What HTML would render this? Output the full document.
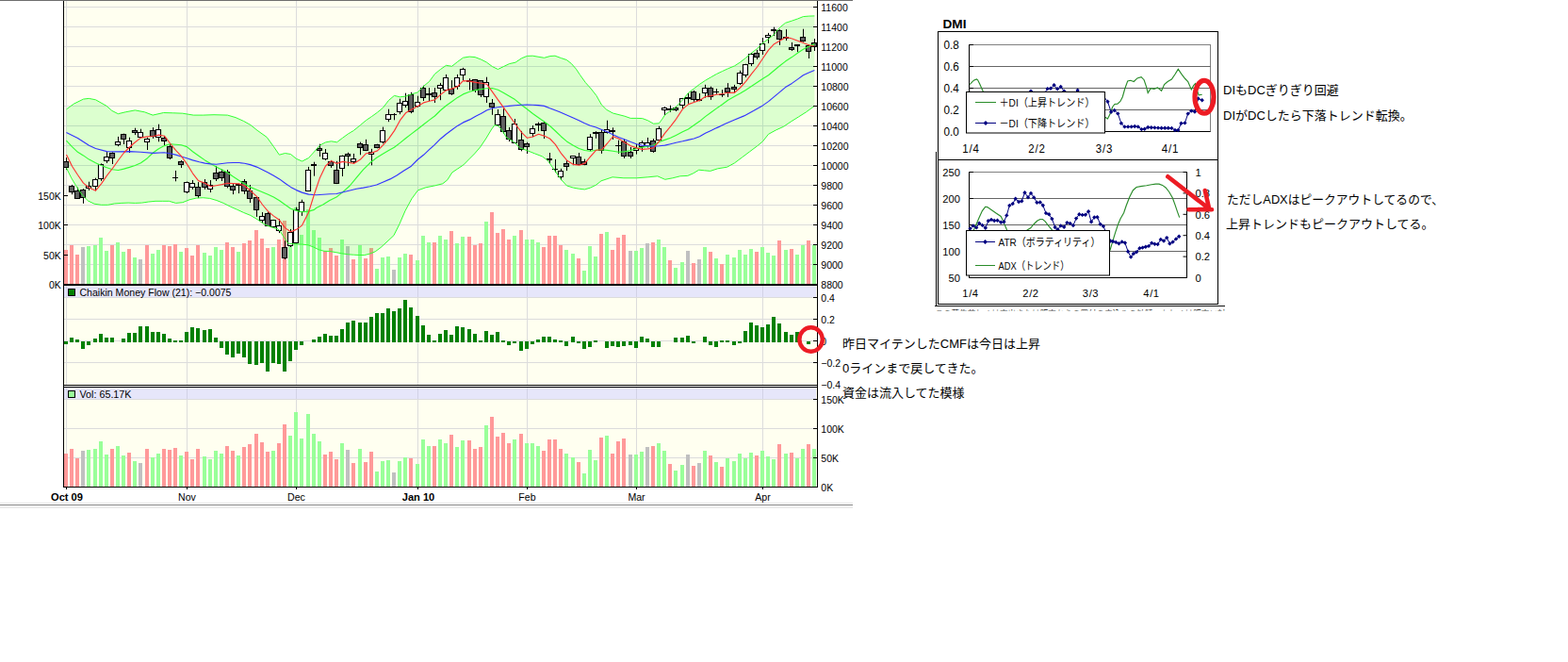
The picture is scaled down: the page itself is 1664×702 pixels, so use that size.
<!DOCTYPE html>
<html><head><meta charset="utf-8"><title>chart</title>
<style>html,body{margin:0;padding:0;background:#fff;}svg{display:block;}text{font-family:"Liberation Sans","Noto Sans CJK JP",sans-serif;}</style>
</head><body>
<svg width="1664" height="702" viewBox="0 0 1664 702">
<rect x="0" y="0" width="1664" height="702" fill="#fff"/>
<rect x="0" y="0" width="905" height="1" fill="#6e6e6e"/>
<rect x="0" y="533" width="905" height="1" fill="#e4e4e4"/>
<rect x="0" y="535" width="905" height="1" fill="#848484"/>
<rect x="0" y="537" width="905" height="2" fill="#ececec"/>
<rect x="68" y="1" width="799" height="300" fill="#fffff0"/>
<rect x="68" y="303" width="799" height="105" fill="#fffff0"/>
<rect x="68" y="411" width="799" height="105" fill="#fffff0"/>
<rect x="68" y="303" width="798" height="12" fill="#e6e6fa"/>
<rect x="68" y="411" width="798" height="12" fill="#e6e6fa"/>
<path d="M68 7.5H867M68 28.5H867M68 49.5H867M68 70.5H867M68 91.5H867M68 112.5H867M68 133.5H867M68 154.5H867M68 175.5H867M68 196.5H867M68 217.5H867M68 238.5H867M68 259.5H867M68 280.5H867M68 315.5H867M68 338.5H867M68 361.5H867M68 384.5H867M68 423.5H867M68 454.5H867M68 485.5H867M70.5 1V301M70.5 303V408M70.5 411V516M198.5 1V301M198.5 303V408M198.5 411V516M314.5 1V301M314.5 303V408M314.5 411V516M443.5 1V301M443.5 303V408M443.5 411V516M559.5 1V301M559.5 303V408M559.5 411V516M675.5 1V301M675.5 303V408M675.5 411V516M809.5 1V301M809.5 303V408M809.5 411V516" stroke="#dcdcdc" stroke-width="1" fill="none"/>
<path d="M70.5 303V315M70.5 411V423M198.5 303V315M198.5 411V423M314.5 303V315M314.5 411V423M443.5 303V315M443.5 411V423M559.5 303V315M559.5 411V423M675.5 303V315M675.5 411V423M809.5 303V315M809.5 411V423" stroke="#d2d2e6" stroke-width="1" fill="none"/>
<path d="M68 481h4v35h-4zM68 265h4v36h-4zM74 476h4v40h-4zM74 260h4v41h-4zM80 486h4v30h-4zM80 270h4v31h-4zM117 476h4v40h-4zM117 260h4v41h-4zM135 480h4v36h-4zM135 264h4v37h-4zM154 476h4v40h-4zM154 260h4v41h-4zM172 476h4v40h-4zM172 260h4v41h-4zM178 477h4v39h-4zM178 261h4v40h-4zM184 475h4v41h-4zM184 259h4v42h-4zM196 479h4v37h-4zM196 263h4v38h-4zM202 487h4v29h-4zM202 271h4v30h-4zM208 476h4v40h-4zM208 260h4v41h-4zM239 473h4v43h-4zM239 257h4v44h-4zM245 478h4v38h-4zM245 262h4v39h-4zM257 474h4v42h-4zM257 258h4v43h-4zM263 471h4v45h-4zM263 255h4v46h-4zM270 460h4v56h-4zM270 244h4v57h-4zM276 469h4v47h-4zM276 253h4v48h-4zM282 479h4v37h-4zM282 263h4v38h-4zM294 470h4v46h-4zM294 254h4v47h-4zM300 450h4v66h-4zM300 234h4v67h-4zM343 482h4v34h-4zM343 266h4v35h-4zM349 479h4v37h-4zM349 263h4v38h-4zM355 487h4v29h-4zM355 271h4v30h-4zM373 491h4v25h-4zM373 275h4v26h-4zM386 490h4v26h-4zM386 274h4v27h-4zM392 479h4v37h-4zM392 263h4v38h-4zM434 486h4v30h-4zM434 270h4v31h-4zM459 473h4v43h-4zM459 257h4v44h-4zM477 461h4v55h-4zM477 245h4v56h-4zM496 467h4v49h-4zM496 251h4v50h-4zM502 476h4v40h-4zM502 260h4v41h-4zM508 474h4v42h-4zM508 258h4v43h-4zM520 442h4v74h-4zM520 225h4v76h-4zM526 463h4v53h-4zM526 247h4v54h-4zM532 459h4v57h-4zM532 243h4v58h-4zM538 470h4v46h-4zM538 254h4v47h-4zM551 460h4v56h-4zM551 244h4v57h-4zM575 478h4v38h-4zM575 262h4v39h-4zM581 466h4v50h-4zM581 250h4v51h-4zM587 466h4v50h-4zM587 250h4v51h-4zM593 476h4v40h-4zM593 260h4v41h-4zM612 490h4v26h-4zM612 274h4v27h-4zM636 464h4v52h-4zM636 248h4v53h-4zM648 481h4v35h-4zM648 265h4v36h-4zM654 468h4v48h-4zM654 252h4v49h-4zM660 465h4v51h-4zM660 249h4v52h-4zM691 473h4v43h-4zM691 257h4v44h-4zM709 492h4v24h-4zM709 276h4v25h-4zM734 494h4v22h-4zM734 279h4v22h-4zM752 483h4v33h-4zM752 267h4v34h-4zM764 495h4v21h-4zM764 280h4v21h-4zM801 483h4v33h-4zM801 267h4v34h-4zM825 471h4v45h-4zM825 255h4v46h-4zM838 480h4v36h-4zM838 264h4v37h-4zM856 471h4v45h-4zM856 255h4v46h-4z" fill="#ff9999"/>
<path d="M92 477h4v39h-4zM92 261h4v40h-4zM99 476h4v40h-4zM99 260h4v41h-4zM105 468h4v48h-4zM105 252h4v49h-4zM111 482h4v34h-4zM111 266h4v35h-4zM123 473h4v43h-4zM123 257h4v44h-4zM129 483h4v33h-4zM129 267h4v34h-4zM141 489h4v27h-4zM141 273h4v28h-4zM160 485h4v31h-4zM160 269h4v32h-4zM166 481h4v35h-4zM166 265h4v36h-4zM190 483h4v33h-4zM190 267h4v34h-4zM215 484h4v32h-4zM215 268h4v33h-4zM221 487h4v29h-4zM221 271h4v30h-4zM227 478h4v38h-4zM227 262h4v39h-4zM233 481h4v35h-4zM233 265h4v36h-4zM251 483h4v33h-4zM251 267h4v34h-4zM288 478h4v38h-4zM288 262h4v39h-4zM306 462h4v54h-4zM306 246h4v55h-4zM312 437h4v79h-4zM312 220h4v81h-4zM318 465h4v51h-4zM318 249h4v52h-4zM325 439h4v77h-4zM325 222h4v79h-4zM331 460h4v56h-4zM331 244h4v57h-4zM337 468h4v48h-4zM337 252h4v49h-4zM361 470h4v46h-4zM361 254h4v47h-4zM380 476h4v40h-4zM380 260h4v41h-4zM398 500h4v16h-4zM398 285h4v16h-4zM404 489h4v27h-4zM404 273h4v28h-4zM410 488h4v28h-4zM410 272h4v29h-4zM422 489h4v27h-4zM422 273h4v28h-4zM428 485h4v31h-4zM428 269h4v32h-4zM441 492h4v24h-4zM441 276h4v25h-4zM447 466h4v50h-4zM447 250h4v51h-4zM453 473h4v43h-4zM453 257h4v44h-4zM465 466h4v50h-4zM465 250h4v51h-4zM471 470h4v46h-4zM471 254h4v47h-4zM483 474h4v42h-4zM483 258h4v43h-4zM489 467h4v49h-4zM489 251h4v50h-4zM514 451h4v65h-4zM514 235h4v66h-4zM544 466h4v50h-4zM544 250h4v51h-4zM557 470h4v46h-4zM557 254h4v47h-4zM563 470h4v46h-4zM563 254h4v47h-4zM569 473h4v43h-4zM569 257h4v44h-4zM599 481h4v35h-4zM599 265h4v36h-4zM606 485h4v31h-4zM606 269h4v32h-4zM618 502h4v14h-4zM618 287h4v14h-4zM624 477h4v39h-4zM624 261h4v40h-4zM630 488h4v28h-4zM630 272h4v29h-4zM642 462h4v54h-4zM642 246h4v55h-4zM673 482h4v34h-4zM673 266h4v35h-4zM679 479h4v37h-4zM679 263h4v38h-4zM697 470h4v46h-4zM697 254h4v47h-4zM703 478h4v38h-4zM703 262h4v39h-4zM715 499h4v17h-4zM715 284h4v17h-4zM722 493h4v23h-4zM722 278h4v23h-4zM746 478h4v38h-4zM746 262h4v39h-4zM758 490h4v26h-4zM758 274h4v27h-4zM770 486h4v30h-4zM770 270h4v31h-4zM777 489h4v27h-4zM777 273h4v28h-4zM783 481h4v35h-4zM783 265h4v36h-4zM789 486h4v30h-4zM789 270h4v31h-4zM795 480h4v36h-4zM795 264h4v37h-4zM807 478h4v38h-4zM807 262h4v39h-4zM813 484h4v32h-4zM813 268h4v33h-4zM819 487h4v29h-4zM819 271h4v30h-4zM832 481h4v35h-4zM832 265h4v36h-4zM844 486h4v30h-4zM844 270h4v31h-4zM850 476h4v40h-4zM850 260h4v41h-4zM862 476h4v40h-4zM862 260h4v41h-4z" fill="#99ff99"/>
<path d="M86 478h4v38h-4zM86 262h4v39h-4zM147 491h4v25h-4zM147 275h4v26h-4zM367 477h4v39h-4zM367 261h4v40h-4zM416 501h4v15h-4zM416 286h4v15h-4zM667 482h4v34h-4zM667 266h4v35h-4zM685 474h4v42h-4zM685 258h4v43h-4zM728 482h4v34h-4zM728 266h4v35h-4zM740 491h4v25h-4zM740 275h4v26h-4z" fill="#c0c0c0"/>
<path d="M68 362h4v3h-4zM74 358h4v5h-4zM80 360h4v3h-4zM86 362h4v8h-4zM92 362h4v4h-4zM99 359h4v4h-4zM105 354h4v9h-4zM111 358h4v5h-4zM117 358h4v5h-4zM129 359h4v4h-4zM135 353h4v10h-4zM141 353h4v10h-4zM147 346h4v17h-4zM154 346h4v17h-4zM160 352h4v11h-4zM166 352h4v11h-4zM172 354h4v9h-4zM178 359h4v4h-4zM184 361h4v2h-4zM190 361h4v2h-4zM196 352h4v11h-4zM202 347h4v16h-4zM208 348h4v15h-4zM215 350h4v13h-4zM221 349h4v14h-4zM227 358h4v5h-4zM233 362h4v7h-4zM239 362h4v14h-4zM245 362h4v17h-4zM251 362h4v13h-4zM257 362h4v17h-4zM263 362h4v24h-4zM270 362h4v25h-4zM276 362h4v23h-4zM282 362h4v32h-4zM288 362h4v23h-4zM294 362h4v24h-4zM300 362h4v32h-4zM306 362h4v21h-4zM312 362h4v9h-4zM318 362h4v4h-4zM331 360h4v3h-4zM337 357h4v6h-4zM343 354h4v9h-4zM349 356h4v7h-4zM355 356h4v7h-4zM361 349h4v14h-4zM367 342h4v21h-4zM373 340h4v23h-4zM380 342h4v21h-4zM386 342h4v21h-4zM392 336h4v27h-4zM398 332h4v31h-4zM404 332h4v31h-4zM410 327h4v36h-4zM416 330h4v33h-4zM422 327h4v36h-4zM428 318h4v45h-4zM434 326h4v37h-4zM441 335h4v28h-4zM447 345h4v18h-4zM453 355h4v8h-4zM459 361h4v2h-4zM465 354h4v9h-4zM471 350h4v13h-4zM477 355h4v8h-4zM483 346h4v17h-4zM489 347h4v16h-4zM496 349h4v14h-4zM502 354h4v9h-4zM508 361h4v2h-4zM514 351h4v12h-4zM520 355h4v8h-4zM526 352h4v11h-4zM532 361h4v2h-4zM538 362h4v4h-4zM544 362h4v2h-4zM551 362h4v10h-4zM557 362h4v8h-4zM563 362h4v3h-4zM569 360h4v3h-4zM575 357h4v6h-4zM581 357h4v6h-4zM587 360h4v3h-4zM593 361h4v2h-4zM599 362h4v5h-4zM606 357h4v6h-4zM612 362h4v2h-4zM618 362h4v8h-4zM624 362h4v6h-4zM630 361h4v2h-4zM642 362h4v7h-4zM648 362h4v5h-4zM654 362h4v6h-4zM660 362h4v5h-4zM667 362h4v4h-4zM673 362h4v7h-4zM679 357h4v6h-4zM685 359h4v4h-4zM691 362h4v6h-4zM697 362h4v6h-4zM715 358h4v5h-4zM722 358h4v5h-4zM728 356h4v7h-4zM734 362h4v2h-4zM746 357h4v6h-4zM752 362h4v4h-4zM758 362h4v6h-4zM764 361h4v2h-4zM770 361h4v2h-4zM777 362h4v4h-4zM783 362h4v2h-4zM789 351h4v12h-4zM795 342h4v21h-4zM801 345h4v18h-4zM807 347h4v16h-4zM813 344h4v19h-4zM819 336h4v27h-4zM825 343h4v20h-4zM832 352h4v11h-4zM838 355h4v8h-4zM844 352h4v11h-4zM856 362h4v3h-4z" fill="#008000"/>
<polygon points="70.5,115.9 78.4,110.1 88.5,105.1 94.3,104.4 101.5,105.8 113,112.3 118.8,117.4 125.3,120.7 133.2,118.8 143.3,116.9 153.4,118.8 162.1,122.1 173.6,119.5 183.7,119.8 193.8,120.2 205.3,122.1 215.4,122.1 227,121.7 241.4,122.1 250,124.6 258.7,128.5 265.9,132.5 273.1,138.3 283.2,145.5 290.5,155.6 296.4,164.2 302.5,162.5 308.5,163.5 314.4,168.3 320.6,171 327.5,167.5 333.4,161 339.5,154 345.5,150.9 351.5,149.8 357.5,150.8 363.5,146.3 369.4,142 375.4,138.4 382.4,132.7 388.4,127.7 394.5,123.5 400.5,119.2 406.5,114.2 412.5,106.4 418.4,101.4 424.4,102.8 430.4,102.1 436.4,100 443.5,97.8 449.5,91.4 455.5,86.5 461.4,78.5 467.5,73.5 473.5,69.3 479.5,70.3 485.7,65.4 491.5,61.2 498.2,60.1 504.1,60.6 510.4,63 516.3,66 522.5,70.6 528.4,73.5 534.3,70.6 540.6,67.6 547,66.2 553.5,61.8 559.4,59.4 565.2,59.2 571,60.2 577.5,61.3 583.9,59.5 589,59.2 595.5,61.6 601.3,63.5 606.3,67.4 611.4,73.2 615.7,79.7 621.4,87.6 627.2,94.1 633,101.5 638.3,111 643.8,116.4 650.4,120 657,121.7 662.9,123.2 669.2,125.4 675.5,125.4 681.7,125.6 687.6,127.8 693.5,131.2 699.4,130.8 702.8,126.2 705.5,122 711.5,117.4 717.4,113.4 724.4,106 730.4,98.6 736.4,94 742.5,89.3 748.5,85.3 754.4,81.9 760.4,78.5 766.5,75.6 772.5,72.8 779.5,69.9 785.5,66 791.4,61.4 797.4,56.3 803.4,51.7 809.4,45.6 815.5,41.4 821.5,36.4 827.5,29.2 833.5,24.3 840.4,22.1 846.4,20 852.4,17.6 858.4,17.1 864.4,16.9 864.4,112.3 855.4,118.9 847.5,123.9 839.5,128.9 831.5,134.3 823.5,137.9 815.5,142.3 809.5,149.9 803.6,154.8 795.6,160.8 787.6,166.8 779.6,172.8 771.6,177.2 761.7,178.8 753.7,181.4 747.7,180.8 741.7,180.2 735.7,183.8 729.8,186.4 721.8,186.8 713.8,188.8 705.8,190.3 697.8,186.8 687.9,187.8 675.5,188.8 661.9,188.8 650,187.8 638,191.8 632.5,196.2 626.5,199.1 620.5,200.9 614.4,200.2 608.4,199.1 601.4,196.9 595.4,190.3 589.5,182 581.5,170.5 575.5,165.9 567.6,162.9 559.6,159.7 551.6,156.9 545.6,150.5 537.6,146 531.7,136.5 528.5,133.5 524.9,132.6 521.7,137 515.7,147 509.7,155.9 503.7,162.9 497.7,168.9 491.8,174.9 485.8,178.9 479.8,182.9 474.8,190.8 469.8,194.8 461.8,196.8 451.9,198.8 443.5,201.8 436.9,210.8 429.9,223.8 423.9,237.7 417.9,249.7 410,257 404,262.5 398.2,266.8 392.5,269.1 386.8,270.5 381.1,270.5 375.4,270.2 369.7,269.8 362.6,268.8 356.9,267.7 349.8,266.5 344,266.3 338.4,264.8 332.7,262 327,259.8 320.4,259.1 311.3,258.8 305.6,258 300.6,250.6 297.5,245.5 294.8,242.8 287.6,240.7 280.4,237.8 273.1,232.7 265.9,228.4 258.7,225.5 251.5,222.2 244.3,219 237.1,215.4 229.9,212.5 222.7,210.4 215.4,209.7 208.2,210.1 201,211.8 193.8,214.7 186.6,215.4 179.4,213.3 172.2,213.3 165,213.3 157.8,214 150.5,215.1 143.3,215.4 136.1,215.1 128.9,215.4 121.7,215.9 114.5,217.3 107.3,217.3 100.1,216.2 93.5,213 87.6,207.2 81.8,198.9 75.8,188.9 70.5,178.2" fill="rgba(0,255,0,0.137)"/>
<path d="M70.5 167.1V180.1M76.5 195.9V206.2M82.5 198.7V211M88.5 200.2V215.8M94.5 192.7V201.9M101.5 188.7V202.3M107.5 173.4V191.9M113.5 161V173M119.5 161.4V174M125.5 144.9V155.2M131.5 141.7V153M137.5 145.7V162M143.5 135.7V143.1M149.5 136.7V145.9M156.5 145.7V159M162.5 135.1V146.9M168.5 131.7V150.3M174.5 143.9V154M180.5 152.9V169.1M186.5 180.9V192.3M192.5 170V178M198.5 192.5V205.1M204.5 191V200.9M210.5 193.1V210.1M217.5 190V200.9M223.5 191V204.1M229.5 176.1V192M235.5 179.6V192M241.5 180V199.4M247.5 195V206.1M253.5 194.7V205.1M259.5 190V205.8M265.5 196V215.1M272.5 208.1V229.9M278.5 225V236.9M284.5 224.9V240.1M290.5 232.9V241.3M296.5 232.2V247.1M302.5 255.3V275.1M308.5 242.9V262M314.5 219.7V258.3M320.5 211.7V228.9M327.5 176.9V203M333.5 171.7V186.7M339.5 152.7V166.1M345.5 158V170M351.5 169.9V177.9M357.5 170.8V195.1M363.5 164.6V187M369.5 161.7V176.1M375.5 162.9V173.8M382.5 150.6V164.3M388.5 147.8V160.2M394.5 157.8V175.3M400.5 152.7V157.3M406.5 134.6V152.3M412.5 115.7V129.2M418.5 120V127.3M424.5 104.7V121.2M430.5 98.7V114.1M436.5 97.8V120.2M443.5 101.7V113.8M449.5 90.7V107M455.5 93.1V107.3M461.5 93.1V109M467.5 87.9V106.2M473.5 78.9V96.2M479.5 85.1V100.9M485.5 78.9V94.9M491.5 71.8V85.3M498.5 83.2V95.5M504.5 83.9V98M510.5 85.1V103M516.5 81.7V109M522.5 105V121.8M528.5 116V133.7M534.5 115.2V141.9M540.5 134.9V150.1M546.5 126V151.6M553.5 138.9V160.3M559.5 150.7V163M565.5 133V145.2M571.5 129.6V139.1M577.5 128.7V147.1M583.5 162V173.7M589.5 168.9V183M595.5 178.8V191.1M601.5 170V181.1M608.5 165.3V175.2M614.5 162V175.2M620.5 168.6V175.2M626.5 142.2V160.1M632.5 139.2V146.8M638.5 137.2V162.9M644.5 127.7V141.6M650.5 135.3V148M656.5 148.7V162.9M662.5 147.4V167.9M669.5 155.9V167.9M675.5 152.7V163.6M681.5 149.1V160.8M687.5 145.9V156.5M693.5 147.1V161.9M699.5 133.8V149.1M705.5 113.2V122M711.5 111.7V118.8M717.5 112.9V118.1M724.5 103.9V115.2M730.5 98.9V109.8M736.5 95.8V107.8M742.5 98.9V107.3M748.5 89.8V103.7M754.5 91.7V105.9M760.5 94.1V99.8M766.5 95.2V102.9M772.5 88.1V102.9M779.5 89.9V98.6M785.5 74.8V90.1M791.5 67.7V82M797.5 56V70.1M803.5 52.9V63M809.5 40.1V58M815.5 34.9V45.9M821.5 28.7V38.1M827.5 31.1V47.8M834.5 31.1V43.1M840.5 44.9V54M846.5 47.2V55.2M852.5 30.7V44.5M858.5 47.2V62M864.5 41.1V54" stroke="#000" stroke-width="1" fill="none"/>
<path d="M250 196H256M330 175H336M452 100H458M495 86H501M568 132H574M580 169H586M629 141H635M647 139H653M708 116H714M727 104H733M739 106H745M818 32H824M831 40H837M843 48H849" stroke="#000" stroke-width="2" fill="none"/>
<path d="M183 188.5H189M415 121.5H421M586 179.5H592M653 154.5H659M757 97.5H763M763 100.5H769" stroke="#000" stroke-width="1" fill="none"/>
<path d="M91.5 197.5H96.5V199.5H91.5zM98.5 190.5H103.5V197.5H98.5zM104.5 174.5H109.5V189.5H104.5zM110.5 166.5H115.5V170.5H110.5zM122.5 150.5H127.5V153.5H122.5zM134.5 149.5H139.5V156.5H134.5zM146.5 140.5H151.5V145.5H146.5zM153.5 147.5H158.5V150.5H153.5zM165.5 137.5H170.5V145.5H165.5zM195.5 193.5H200.5V203.5H195.5zM201.5 194.5H206.5V198.5H201.5zM220.5 196.5H225.5V200.5H220.5zM275.5 229.5H280.5V233.5H275.5zM287.5 233.5H292.5V240.5H287.5zM293.5 239.5H298.5V244.5H293.5zM305.5 246.5H310.5V260.5H305.5zM311.5 222.5H316.5V257.5H311.5zM317.5 214.5H322.5V224.5H317.5zM324.5 180.5H329.5V202.5H324.5zM342.5 162.5H347.5V168.5H342.5zM360.5 165.5H365.5V178.5H360.5zM372.5 168.5H377.5V171.5H372.5zM391.5 161.5H396.5V163.5H391.5zM403.5 138.5H408.5V150.5H403.5zM409.5 121.5H414.5V126.5H409.5zM421.5 109.5H426.5V118.5H421.5zM427.5 107.5H432.5V111.5H427.5zM440.5 108.5H445.5V112.5H440.5zM464.5 90.5H469.5V93.5H464.5zM470.5 82.5H475.5V95.5H470.5zM482.5 82.5H487.5V91.5H482.5zM488.5 73.5H493.5V79.5H488.5zM513.5 87.5H518.5V102.5H513.5zM525.5 121.5H530.5V132.5H525.5zM543.5 131.5H548.5V151.5H543.5zM562.5 136.5H567.5V141.5H562.5zM592.5 181.5H597.5V187.5H592.5zM605.5 165.5H610.5V167.5H605.5zM623.5 145.5H628.5V158.5H623.5zM641.5 137.5H646.5V140.5H641.5zM672.5 157.5H677.5V159.5H672.5zM678.5 151.5H683.5V155.5H678.5zM684.5 151.5H689.5V154.5H684.5zM696.5 136.5H701.5V148.5H696.5zM702.5 114.5H707.5V116.5H702.5zM721.5 104.5H726.5V111.5H721.5zM745.5 93.5H750.5V98.5H745.5zM782.5 77.5H787.5V88.5H782.5zM788.5 68.5H793.5V79.5H788.5zM794.5 57.5H799.5V67.5H794.5zM806.5 46.5H811.5V53.5H806.5zM812.5 37.5H817.5V39.5H812.5z" stroke="#000" stroke-width="1.15" fill="#fff"/>
<path d="M67.5 171.5H72.5V177.5H67.5zM73.5 197.5H78.5V203.5H73.5zM79.5 202.5H84.5V210.5H79.5zM85.5 201.5H90.5V209.5H85.5zM116.5 162.5H121.5V167.5H116.5zM128.5 142.5H133.5V147.5H128.5zM140.5 138.5H145.5V140.5H140.5zM159.5 138.5H164.5V144.5H159.5zM171.5 146.5H176.5V149.5H171.5zM177.5 155.5H182.5V167.5H177.5zM189.5 171.5H194.5V174.5H189.5zM207.5 198.5H212.5V207.5H207.5zM214.5 193.5H219.5V198.5H214.5zM226.5 183.5H231.5V189.5H226.5zM232.5 182.5H237.5V188.5H232.5zM238.5 182.5H243.5V197.5H238.5zM244.5 197.5H249.5V201.5H244.5zM256.5 192.5H261.5V202.5H256.5zM262.5 202.5H267.5V210.5H262.5zM269.5 209.5H274.5V222.5H269.5zM281.5 226.5H286.5V239.5H281.5zM299.5 262.5H304.5V273.5H299.5zM336.5 157.5H341.5V159.5H336.5zM348.5 171.5H353.5V175.5H348.5zM354.5 180.5H359.5V194.5H354.5zM366.5 163.5H371.5V165.5H366.5zM379.5 152.5H384.5V156.5H379.5zM385.5 153.5H390.5V159.5H385.5zM397.5 153.5H402.5V156.5H397.5zM433.5 100.5H438.5V118.5H433.5zM446.5 93.5H451.5V103.5H446.5zM458.5 98.5H463.5V102.5H458.5zM476.5 94.5H481.5V99.5H476.5zM501.5 84.5H506.5V95.5H501.5zM507.5 85.5H512.5V100.5H507.5zM519.5 109.5H524.5V113.5H519.5zM531.5 123.5H536.5V139.5H531.5zM537.5 138.5H542.5V147.5H537.5zM550.5 148.5H555.5V158.5H550.5zM556.5 152.5H561.5V155.5H556.5zM574.5 130.5H579.5V138.5H574.5zM598.5 173.5H603.5V176.5H598.5zM611.5 166.5H616.5V174.5H611.5zM617.5 171.5H622.5V174.5H617.5zM635.5 140.5H640.5V159.5H635.5zM659.5 150.5H664.5V165.5H659.5zM666.5 161.5H671.5V165.5H666.5zM690.5 149.5H695.5V160.5H690.5zM714.5 114.5H719.5V116.5H714.5zM733.5 97.5H738.5V105.5H733.5zM751.5 93.5H756.5V102.5H751.5zM769.5 93.5H774.5V97.5H769.5zM776.5 92.5H781.5V94.5H776.5zM800.5 56.5H805.5V60.5H800.5zM824.5 32.5H829.5V41.5H824.5zM837.5 50.5H842.5V52.5H837.5zM849.5 39.5H854.5V43.5H849.5zM855.5 48.5H860.5V54.5H855.5zM861.5 45.5H866.5V49.5H861.5z" stroke="#000" stroke-width="1.15" fill="#626262"/>
<polyline points="70.5,115.9 78.4,110.1 88.5,105.1 94.3,104.4 101.5,105.8 113,112.3 118.8,117.4 125.3,120.7 133.2,118.8 143.3,116.9 153.4,118.8 162.1,122.1 173.6,119.5 183.7,119.8 193.8,120.2 205.3,122.1 215.4,122.1 227,121.7 241.4,122.1 250,124.6 258.7,128.5 265.9,132.5 273.1,138.3 283.2,145.5 290.5,155.6 296.4,164.2 302.5,162.5 308.5,163.5 314.4,168.3 320.6,171 327.5,167.5 333.4,161 339.5,154 345.5,150.9 351.5,149.8 357.5,150.8 363.5,146.3 369.4,142 375.4,138.4 382.4,132.7 388.4,127.7 394.5,123.5 400.5,119.2 406.5,114.2 412.5,106.4 418.4,101.4 424.4,102.8 430.4,102.1 436.4,100 443.5,97.8 449.5,91.4 455.5,86.5 461.4,78.5 467.5,73.5 473.5,69.3 479.5,70.3 485.7,65.4 491.5,61.2 498.2,60.1 504.1,60.6 510.4,63 516.3,66 522.5,70.6 528.4,73.5 534.3,70.6 540.6,67.6 547,66.2 553.5,61.8 559.4,59.4 565.2,59.2 571,60.2 577.5,61.3 583.9,59.5 589,59.2 595.5,61.6 601.3,63.5 606.3,67.4 611.4,73.2 615.7,79.7 621.4,87.6 627.2,94.1 633,101.5 638.3,111 643.8,116.4 650.4,120 657,121.7 662.9,123.2 669.2,125.4 675.5,125.4 681.7,125.6 687.6,127.8 693.5,131.2 699.4,130.8 702.8,126.2 705.5,122 711.5,117.4 717.4,113.4 724.4,106 730.4,98.6 736.4,94 742.5,89.3 748.5,85.3 754.4,81.9 760.4,78.5 766.5,75.6 772.5,72.8 779.5,69.9 785.5,66 791.4,61.4 797.4,56.3 803.4,51.7 809.4,45.6 815.5,41.4 821.5,36.4 827.5,29.2 833.5,24.3 840.4,22.1 846.4,20 852.4,17.6 858.4,17.1 864.4,16.9" fill="none" stroke="#33ff33" stroke-width="1" stroke-linejoin="round"/>
<polyline points="70.5,178.2 75.8,188.9 81.8,198.9 87.6,207.2 93.5,213 100.1,216.2 107.3,217.3 114.5,217.3 121.7,215.9 128.9,215.4 136.1,215.1 143.3,215.4 150.5,215.1 157.8,214 165,213.3 172.2,213.3 179.4,213.3 186.6,215.4 193.8,214.7 201,211.8 208.2,210.1 215.4,209.7 222.7,210.4 229.9,212.5 237.1,215.4 244.3,219 251.5,222.2 258.7,225.5 265.9,228.4 273.1,232.7 280.4,237.8 287.6,240.7 294.8,242.8 297.5,245.5 300.6,250.6 305.6,258 311.3,258.8 320.4,259.1 327,259.8 332.7,262 338.4,264.8 344,266.3 349.8,266.5 356.9,267.7 362.6,268.8 369.7,269.8 375.4,270.2 381.1,270.5 386.8,270.5 392.5,269.1 398.2,266.8 404,262.5 410,257 417.9,249.7 423.9,237.7 429.9,223.8 436.9,210.8 443.5,201.8 451.9,198.8 461.8,196.8 469.8,194.8 474.8,190.8 479.8,182.9 485.8,178.9 491.8,174.9 497.7,168.9 503.7,162.9 509.7,155.9 515.7,147 521.7,137 524.9,132.6 528.5,133.5 531.7,136.5 537.6,146 545.6,150.5 551.6,156.9 559.6,159.7 567.6,162.9 575.5,165.9 581.5,170.5 589.5,182 595.4,190.3 601.4,196.9 608.4,199.1 614.4,200.2 620.5,200.9 626.5,199.1 632.5,196.2 638,191.8 650,187.8 661.9,188.8 675.5,188.8 687.9,187.8 697.8,186.8 705.8,190.3 713.8,188.8 721.8,186.8 729.8,186.4 735.7,183.8 741.7,180.2 747.7,180.8 753.7,181.4 761.7,178.8 771.6,177.2 779.6,172.8 787.6,166.8 795.6,160.8 803.6,154.8 809.5,149.9 815.5,142.3 823.5,137.9 831.5,134.3 839.5,128.9 847.5,123.9 855.4,118.9 864.4,112.3" fill="none" stroke="#33ff33" stroke-width="1" stroke-linejoin="round"/>
<polyline points="70.4,149.2 76.5,155.6 82.5,161.3 88.5,164.9 94.5,169.1 101.5,172.7 107.4,175.5 113.4,177.7 119.4,179.8 125.4,180.5 131.4,179.1 137.4,177.4 143.3,175.5 149.5,172.7 156.5,167.7 162.4,162 168.4,157.7 174.4,154.6 180.4,152.7 186.4,153.2 192.3,153.7 198.3,155.6 204.5,160.7 211.5,165.7 217.5,169.9 223.5,173.5 229.5,177.1 235.5,179.9 241.4,183 247.4,187.3 253.5,191.3 259.5,194.9 265.5,198.4 272.5,201.3 278.5,203.8 284.5,206.3 290.4,209.1 296.6,212.7 302.5,217 308.5,221.2 314.5,223.4 320.5,224.8 327.5,224.1 333.5,222.4 335.6,220.5 342.7,216.9 349.9,212.6 357,209.1 364.1,203.4 371.2,197 378.3,188.4 385.5,179.9 392.6,172.8 399.7,167.3 406.6,163 412.5,159.6 418.4,156.3 424.4,151.6 430.4,146.8 436.4,142.1 443.5,136.8 449.5,132 455.5,127.4 461.4,123 467.5,117 473.5,112 479.5,107.7 485.5,103.4 491.5,99.9 498.4,97.3 504.4,95.6 510.4,94.6 516.4,93.8 522.4,93.5 528.5,95.3 534.5,98.5 540.5,102 546.5,105.6 553.4,111.3 559.4,115.8 565.4,120.5 571.4,124.8 577.5,129 583.5,133.5 589.5,139 595.4,144.7 601.4,149.9 608.4,154.2 614.4,157.5 620.5,159.5 626.5,160.2 632.5,159.2 638.5,158.8 644.5,159.4 650.5,160.2 656.5,161.2 662.5,160.9 669.4,159.5 675.4,157.6 681.4,156.2 687.4,155.1 693.5,154.1 699.5,150.5 705.5,148.4 711.5,146.3 717.4,143.4 724.4,139.8 730.4,137 736.4,132.7 742.5,128.6 748.5,123.6 754.5,119.2 760.5,114.9 766.5,110.8 772.5,106.2 779.5,102.3 785.5,99 791.4,95.4 797.4,91.4 803.4,87.5 809.4,83.6 815.5,79.8 821.5,74.8 827.5,69.8 833.5,65.1 840.4,60.6 846.4,56.3 852.4,52.3 858.4,49.2 864.4,46.6" fill="none" stroke="#33ff33" stroke-width="1.15" stroke-linejoin="round"/>
<polyline points="70.4,140.4 82.5,146.6 94.5,154.2 101.5,157.5 113.4,160.6 125.4,160.9 137.4,160.6 149.5,161.3 162.4,162.4 174.4,161.7 180.4,162.7 186.4,164.1 192.3,166 198.3,167.7 204.5,169.9 211.5,171.7 217.5,173.1 223.5,173.9 229.5,174.2 235.5,173.5 241.4,172.8 247.4,172.5 253.5,172.5 259.5,173.2 265.5,174.6 272.5,177.1 278.5,179.9 284.5,183 290.4,186.3 296.6,189.9 302.5,194.2 308.5,198.4 314.5,201.6 320.5,204.1 327.5,206.1 335.6,206.7 342.7,206.2 349.9,205.8 357,205.5 364.1,203.8 371.2,202 378.3,200.3 385.5,199.1 392.6,197.7 399.7,196 406.8,193 414,189.9 421.1,185.9 428.2,181.3 436.4,176.2 443.5,169 449.5,164.3 455.5,158.7 461.4,153.3 467.5,147.2 473.5,142.2 479.5,137.8 485.5,133.4 491.5,129.9 498.4,126.9 504.4,123.4 510.4,120.5 516.4,117 522.4,114.8 528.5,113.7 534.5,113 540.5,112.4 546.5,111.7 553.4,111.3 559.4,111 565.4,111.3 571.4,111.6 577.5,112.4 583.5,114.8 589.5,117 594,118.7 608.3,125 614.4,127.8 620.5,130.7 626.5,133.3 632.5,135 638.5,137.5 644.5,139.8 650.5,142.7 656.5,145.5 662.5,147.7 669.4,150.5 675.4,152.7 681.4,154.1 687.4,154.8 693.5,155.1 699.5,154.8 705.5,154.1 711.5,152.7 717.4,151.2 724.4,149.8 730.4,148.4 736.4,147 742.5,144.8 748.5,141.3 754.5,138.4 760.5,135.6 764,134.1 769.7,131.2 779.6,127 789.6,122.9 799.6,117.5 809.4,111.9 815.5,107.6 821.5,102.6 827.5,97.6 833.5,92.6 840.4,88.4 846.4,84.1 852.4,79.8 858.4,77 864.4,74.5" fill="none" stroke="#3333ff" stroke-width="1.15" stroke-linejoin="round"/>
<polyline points="70.5,164.1 76.5,176.3 82.5,185.5 88.5,194.1 94.5,199 101.5,202.2 107.5,194.8 113.5,186.2 119.5,178.5 125.5,170 131.5,162 137.5,156 143.5,150.8 149.5,146.1 156.5,144.9 162.5,144.5 168.5,143.1 174.5,144.2 180.5,152 186.5,159.3 192.5,165.6 198.5,174.1 204.5,183.8 210.5,191.6 217.5,194.2 223.5,197.7 229.5,196.7 235.5,195.6 241.5,194.2 247.5,194.6 253.5,194.9 259.5,197 265.5,202 272.5,208.4 278.5,217 284.5,224.1 290.5,229.1 296.5,233.3 302.5,241.6 308.5,245.8 314.5,243.4 320.5,239.1 327.5,225.2 333.5,206 339.5,188.4 345.5,176 351.5,170.6 357.5,173.4 363.5,171.4 369.5,172.2 375.5,173.4 382.5,169.1 388.5,162.7 394.5,162 400.5,159.9 406.5,153.9 412.5,147.1 418.5,138.6 424.5,127.7 430.5,119.8 436.5,116.3 443.5,112.4 449.5,108.9 455.5,107.2 461.5,105.9 467.5,100.4 473.5,95.8 479.5,94.1 485.5,91.8 491.5,85.6 498.5,86.1 504.5,87.4 510.5,88.2 516.5,89.2 522.5,97.3 528.5,105.8 534.5,114.1 540.5,122.7 546.5,131 553.5,140.3 559.5,146.3 565.5,145 571.5,142.3 577.5,144.1 583.5,147 589.5,153.4 595.5,162.7 601.5,169.9 608.5,174.4 614.5,175.1 620.5,173.4 626.5,166.2 632.5,159.3 638.5,158.8 644.5,152 650.5,144.8 656.5,147 662.5,150.8 669.5,154.8 675.5,156.9 681.5,158.4 687.5,157.9 693.5,156.9 699.5,149.8 705.5,141.3 711.5,134.1 717.5,126.3 724.5,115.6 730.5,110.6 736.5,108.5 742.5,106.4 748.5,102.5 754.5,101.6 760.5,100.3 766.5,99.5 772.5,98.3 779.5,98.3 785.5,93 791.5,86.4 797.5,78.3 803.5,71 809.5,62 815.5,53.1 821.5,46.7 827.5,43.2 834.5,39.4 840.5,41 846.5,43.3 852.5,45.5 858.5,47.7 864.5,49.3" fill="none" stroke="#ff3333" stroke-width="1.15" stroke-linejoin="round"/>
<path d="M67.5 1V517M867.5 1V517" stroke="#000" stroke-width="1" fill="none"/>
<rect x="67" y="301" width="801" height="2" fill="#000"/>
<rect x="67" y="408" width="801" height="1" fill="#000"/>
<rect x="68" y="409" width="799" height="1" fill="#fff"/>
<rect x="67" y="410" width="801" height="1" fill="#000"/>
<rect x="67" y="516" width="801" height="1" fill="#000"/>
<path d="M863 7.5H867M863 28.5H867M863 49.5H867M863 70.5H867M863 91.5H867M863 112.5H867M863 133.5H867M863 154.5H867M863 175.5H867M863 196.5H867M863 217.5H867M863 238.5H867M863 259.5H867M863 280.5H867M863 315.5H867M863 338.5H867M863 361.5H867M863 384.5H867M863 423.5H867M863 454.5H867M863 485.5H867M68 207.5H72M68 238.5H72M68 270.5H72M70.5 517V519M198.5 517V519M314.5 517V519M443.5 517V519M559.5 517V519M675.5 517V519M809.5 517V519" stroke="#000" stroke-width="1" fill="none"/>
<g font-family='"Liberation Sans", sans-serif'>
<text x="871.3" y="11.8" font-size="10.5" text-anchor="start" font-weight="normal" fill="#000" >11600</text>
<text x="871.3" y="32.8" font-size="10.5" text-anchor="start" font-weight="normal" fill="#000" >11400</text>
<text x="871.3" y="53.8" font-size="10.5" text-anchor="start" font-weight="normal" fill="#000" >11200</text>
<text x="871.3" y="74.8" font-size="10.5" text-anchor="start" font-weight="normal" fill="#000" >11000</text>
<text x="871.3" y="95.8" font-size="10.5" text-anchor="start" font-weight="normal" fill="#000" >10800</text>
<text x="871.3" y="116.8" font-size="10.5" text-anchor="start" font-weight="normal" fill="#000" >10600</text>
<text x="871.3" y="137.8" font-size="10.5" text-anchor="start" font-weight="normal" fill="#000" >10400</text>
<text x="871.3" y="158.8" font-size="10.5" text-anchor="start" font-weight="normal" fill="#000" >10200</text>
<text x="871.3" y="179.8" font-size="10.5" text-anchor="start" font-weight="normal" fill="#000" >10000</text>
<text x="871.3" y="200.8" font-size="10.5" text-anchor="start" font-weight="normal" fill="#000" >9800</text>
<text x="871.3" y="221.8" font-size="10.5" text-anchor="start" font-weight="normal" fill="#000" >9600</text>
<text x="871.3" y="242.8" font-size="10.5" text-anchor="start" font-weight="normal" fill="#000" >9400</text>
<text x="871.3" y="263.8" font-size="10.5" text-anchor="start" font-weight="normal" fill="#000" >9200</text>
<text x="871.3" y="284.8" font-size="10.5" text-anchor="start" font-weight="normal" fill="#000" >9000</text>
<text x="871.3" y="305.8" font-size="10.5" text-anchor="start" font-weight="normal" fill="#000" >8800</text>
<text x="871.3" y="319.8" font-size="10.5" text-anchor="start" font-weight="normal" fill="#000" >0.4</text>
<text x="871.3" y="342.8" font-size="10.5" text-anchor="start" font-weight="normal" fill="#000" >0.2</text>
<text x="871.3" y="388.8" font-size="10.5" text-anchor="start" font-weight="normal" fill="#000" >−0.2</text>
<text x="871.3" y="411.8" font-size="10.5" text-anchor="start" font-weight="normal" fill="#000" >−0.4</text>
<text x="871.3" y="365.8" font-size="10.5" text-anchor="start" font-weight="normal" fill="#000" >0</text>
<text x="871.3" y="427.8" font-size="10.5" text-anchor="start" font-weight="normal" fill="#000" >150K</text>
<text x="871.3" y="458.8" font-size="10.5" text-anchor="start" font-weight="normal" fill="#000" >100K</text>
<text x="871.3" y="489.8" font-size="10.5" text-anchor="start" font-weight="normal" fill="#000" >50K</text>
<text x="871.3" y="520.8" font-size="10.5" text-anchor="start" font-weight="normal" fill="#000" >0K</text>
<text x="64.8" y="211.8" font-size="10.5" text-anchor="end" font-weight="normal" fill="#000" >150K</text>
<text x="64.8" y="242.8" font-size="10.5" text-anchor="end" font-weight="normal" fill="#000" >100K</text>
<text x="64.8" y="274.8" font-size="10.5" text-anchor="end" font-weight="normal" fill="#000" >50K</text>
<text x="64.8" y="305.7" font-size="10.5" text-anchor="end" font-weight="normal" fill="#000" >0K</text>
<text x="71" y="531" font-size="11.1" text-anchor="middle" font-weight="bold" fill="#000" >Oct 09</text>
<text x="198.5" y="531" font-size="10.6" text-anchor="middle" font-weight="normal" fill="#000" >Nov</text>
<text x="314.5" y="531" font-size="10.6" text-anchor="middle" font-weight="normal" fill="#000" >Dec</text>
<text x="444" y="531" font-size="11.1" text-anchor="middle" font-weight="bold" fill="#000" >Jan 10</text>
<text x="559.5" y="531" font-size="10.6" text-anchor="middle" font-weight="normal" fill="#000" >Feb</text>
<text x="675.5" y="531" font-size="10.6" text-anchor="middle" font-weight="normal" fill="#000" >Mar</text>
<text x="809.5" y="531" font-size="10.6" text-anchor="middle" font-weight="normal" fill="#000" >Apr</text>
<rect x="72.5" y="306.5" width="7" height="7" fill="#008000" stroke="#000" stroke-width="1"/>
<text x="84.5" y="314" font-size="10.5" text-anchor="start" font-weight="normal" fill="#000" textLength="161" lengthAdjust="spacingAndGlyphs">Chaikin Money Flow (21): −0.0075</text>
<rect x="72.5" y="414.5" width="7" height="7" fill="#99ff99" stroke="#000" stroke-width="1"/>
<text x="84.5" y="422" font-size="10.5" text-anchor="start" font-weight="normal" fill="#000" textLength="55" lengthAdjust="spacingAndGlyphs">Vol: 65.17K</text>
</g>
<ellipse cx="860.6" cy="360" rx="12.2" ry="12.7" fill="none" stroke="#ed1c24" stroke-width="4.4"/>
<text x="894" y="369" font-size="13" fill="#000" font-family='"Liberation Sans","Noto Sans CJK JP",sans-serif'>昨日マイテンしたCMFは今日は上昇</text>
<text x="894" y="395" font-size="13" fill="#000" font-family='"Liberation Sans","Noto Sans CJK JP",sans-serif'>0ラインまで戻してきた。</text>
<text x="894" y="421" font-size="13" fill="#000" font-family='"Liberation Sans","Noto Sans CJK JP",sans-serif'>資金は流入してた模様</text>
<text x="1298" y="100.4" font-size="13" fill="#000" font-family='"Liberation Sans","Noto Sans CJK JP",sans-serif'>DIもDCぎりぎり回避</text>
<text x="1298" y="127" font-size="13" fill="#000" font-family='"Liberation Sans","Noto Sans CJK JP",sans-serif'>DIがDCしたら下落トレンド転換。</text>
<text x="1302" y="216" font-size="13" fill="#000" font-family='"Liberation Sans","Noto Sans CJK JP",sans-serif' textLength="230" lengthAdjust="spacingAndGlyphs">ただしADXはピークアウトしてるので、</text>
<text x="1301" y="242" font-size="13" fill="#000" font-family='"Liberation Sans","Noto Sans CJK JP",sans-serif'>上昇トレンドもピークアウトしてる。</text>
<g font-family='"Liberation Sans", sans-serif'>
<text x="1000.5" y="30" font-size="12" text-anchor="start" font-weight="bold" fill="#000" textLength="25" lengthAdjust="spacingAndGlyphs">DMI</text>
<rect x="995.5" y="33.5" width="297" height="136" fill="#fff" stroke="#000" stroke-width="1"/>
<rect x="995.5" y="169.5" width="297" height="153" fill="#fff" stroke="#000" stroke-width="1"/>
<rect x="993" y="161" width="1" height="164" fill="#000"/>
<rect x="1028.5" y="47.5" width="256.0" height="92.0" fill="#fff" stroke="#808080" stroke-width="1"/>
<path d="M1028.5 70.5H1284.5M1028.5 93.5H1284.5M1028.5 116.5H1284.5" stroke="#555" stroke-width="0.9" fill="none"/>
<path d="M1028.5 47.5V139.5H1284.5" stroke="#000" stroke-width="1" fill="none"/>
<path d="M1028.5 47.5h4.5M1028.5 70.5h4.5M1028.5 93.5h4.5M1028.5 116.5h4.5M1028.5 139.5h4.5" stroke="#000" stroke-width="1" fill="none"/>
<text transform="translate(1001.6,51.8) scale(0.9,1)" font-size="13" fill="#000">0.8</text>
<text transform="translate(1001.6,74.8) scale(0.9,1)" font-size="13" fill="#000">0.6</text>
<text transform="translate(1001.6,97.8) scale(0.9,1)" font-size="13" fill="#000">0.4</text>
<text transform="translate(1001.6,120.8) scale(0.9,1)" font-size="13" fill="#000">0.2</text>
<text transform="translate(1001.6,143.8) scale(0.9,1)" font-size="13" fill="#000">0.0</text>
<text transform="translate(1030.5,162.3) scale(0.92,1)" font-size="12.5" text-anchor="middle" letter-spacing="0.9" fill="#000">1/4</text>
<text transform="translate(1100.5,162.3) scale(0.92,1)" font-size="12.5" text-anchor="middle" letter-spacing="0.9" fill="#000">2/2</text>
<text transform="translate(1172,162.3) scale(0.92,1)" font-size="12.5" text-anchor="middle" letter-spacing="0.9" fill="#000">3/3</text>
<text transform="translate(1242,162.3) scale(0.92,1)" font-size="12.5" text-anchor="middle" letter-spacing="0.9" fill="#000">4/1</text>
<polyline points="1029,89.5 1030,88.6 1033.4,85.2 1036.4,84 1037.6,84.8 1039.7,89 1041.8,93.7 1043.1,96.6 1045,100 1170,122 1172.8,124.2 1175.5,126 1178.2,120.6 1180.6,113.5 1182.9,110.5 1185.9,110.1 1188.9,107.5 1191.3,102.7 1193.7,94.3 1196.7,85.9 1199.7,85.3 1203.3,86.5 1206.9,82.9 1211.1,81.7 1214.1,84.7 1216.5,91.9 1218.2,98.5 1221.2,93.7 1224.8,94.3 1228.4,92.9 1232.6,96.3 1235.6,89.5 1239.2,86.5 1243.4,84.1 1247,78.8 1250.3,73.4 1254.1,78.8 1257.7,83.5 1260.7,86.5 1264.3,94.9 1266.7,90.7 1268.5,88.6 1270.3,95.5 1272.1,100.9 1275.7,100.3" fill="none" stroke="#2a8c2a" stroke-width="1.15"/>
<polyline points="1029.8,112 1033.4,108 1037,104 1040.6,101 1044.2,100 1090.4,99 1094,96.6 1097.6,99 1101.2,100 1104.8,100 1108.3,99 1111.7,94.1 1115,93.7 1118.6,90.3 1122.2,94.3 1125.7,92 1129.3,96.6 1132.9,99.5 1136.5,100 1140,99 1143.6,95.8 1147.2,99.5 1150.8,101 1167.3,103 1170.6,101.5 1175.5,107.7 1179.1,118.8 1182.7,117 1186.3,120.4 1189.9,130.8 1193.5,134.4 1197.1,134.4 1200.7,134.4 1204.2,134 1207.8,134.4 1211.4,137.1 1214.7,136.8 1218.2,135 1221.8,135.2 1225.4,135.4 1229,135.6 1232.6,135.8 1236.2,135.8 1239.8,135.8 1243.4,135.9 1247,138 1250.3,138 1253.5,130.8 1257.4,130.4 1260.7,120.6 1264.3,117.6 1267.9,118.5 1271.5,104.5 1275.7,106.3" fill="none" stroke="#000080" stroke-width="1"/>
<path d="M1029.8 109.8l2.2 2.2l-2.2 2.2l-2.2-2.2zM1033.4 105.8l2.2 2.2l-2.2 2.2l-2.2-2.2zM1037 101.8l2.2 2.2l-2.2 2.2l-2.2-2.2zM1040.6 98.8l2.2 2.2l-2.2 2.2l-2.2-2.2zM1044.2 97.8l2.2 2.2l-2.2 2.2l-2.2-2.2zM1090.4 96.8l2.2 2.2l-2.2 2.2l-2.2-2.2zM1094 94.4l2.2 2.2l-2.2 2.2l-2.2-2.2zM1097.6 96.8l2.2 2.2l-2.2 2.2l-2.2-2.2zM1101.2 97.8l2.2 2.2l-2.2 2.2l-2.2-2.2zM1104.8 97.8l2.2 2.2l-2.2 2.2l-2.2-2.2zM1108.3 96.8l2.2 2.2l-2.2 2.2l-2.2-2.2zM1111.7 91.9l2.2 2.2l-2.2 2.2l-2.2-2.2zM1115 91.5l2.2 2.2l-2.2 2.2l-2.2-2.2zM1118.6 88.1l2.2 2.2l-2.2 2.2l-2.2-2.2zM1122.2 92.1l2.2 2.2l-2.2 2.2l-2.2-2.2zM1125.7 89.8l2.2 2.2l-2.2 2.2l-2.2-2.2zM1129.3 94.4l2.2 2.2l-2.2 2.2l-2.2-2.2zM1132.9 97.3l2.2 2.2l-2.2 2.2l-2.2-2.2zM1136.5 97.8l2.2 2.2l-2.2 2.2l-2.2-2.2zM1140 96.8l2.2 2.2l-2.2 2.2l-2.2-2.2zM1143.6 93.6l2.2 2.2l-2.2 2.2l-2.2-2.2zM1147.2 97.3l2.2 2.2l-2.2 2.2l-2.2-2.2zM1150.8 98.8l2.2 2.2l-2.2 2.2l-2.2-2.2zM1167.3 100.8l2.2 2.2l-2.2 2.2l-2.2-2.2zM1170.6 99.3l2.2 2.2l-2.2 2.2l-2.2-2.2zM1175.5 105.5l2.2 2.2l-2.2 2.2l-2.2-2.2zM1179.1 116.6l2.2 2.2l-2.2 2.2l-2.2-2.2zM1182.7 114.8l2.2 2.2l-2.2 2.2l-2.2-2.2zM1186.3 118.2l2.2 2.2l-2.2 2.2l-2.2-2.2zM1189.9 128.6l2.2 2.2l-2.2 2.2l-2.2-2.2zM1193.5 132.2l2.2 2.2l-2.2 2.2l-2.2-2.2zM1197.1 132.2l2.2 2.2l-2.2 2.2l-2.2-2.2zM1200.7 132.2l2.2 2.2l-2.2 2.2l-2.2-2.2zM1204.2 131.8l2.2 2.2l-2.2 2.2l-2.2-2.2zM1207.8 132.2l2.2 2.2l-2.2 2.2l-2.2-2.2zM1211.4 134.9l2.2 2.2l-2.2 2.2l-2.2-2.2zM1214.7 134.6l2.2 2.2l-2.2 2.2l-2.2-2.2zM1218.2 132.8l2.2 2.2l-2.2 2.2l-2.2-2.2zM1221.8 133l2.2 2.2l-2.2 2.2l-2.2-2.2zM1225.4 133.2l2.2 2.2l-2.2 2.2l-2.2-2.2zM1229 133.4l2.2 2.2l-2.2 2.2l-2.2-2.2zM1232.6 133.6l2.2 2.2l-2.2 2.2l-2.2-2.2zM1236.2 133.6l2.2 2.2l-2.2 2.2l-2.2-2.2zM1239.8 133.6l2.2 2.2l-2.2 2.2l-2.2-2.2zM1243.4 133.7l2.2 2.2l-2.2 2.2l-2.2-2.2zM1247 135.8l2.2 2.2l-2.2 2.2l-2.2-2.2zM1250.3 135.8l2.2 2.2l-2.2 2.2l-2.2-2.2zM1253.5 128.6l2.2 2.2l-2.2 2.2l-2.2-2.2zM1257.4 128.2l2.2 2.2l-2.2 2.2l-2.2-2.2zM1260.7 118.4l2.2 2.2l-2.2 2.2l-2.2-2.2zM1264.3 115.4l2.2 2.2l-2.2 2.2l-2.2-2.2zM1267.9 116.3l2.2 2.2l-2.2 2.2l-2.2-2.2zM1271.5 102.3l2.2 2.2l-2.2 2.2l-2.2-2.2zM1275.7 104.1l2.2 2.2l-2.2 2.2l-2.2-2.2z" fill="#000080"/>
<rect x="1025.5" y="97.5" width="147" height="43.5" fill="#fff" stroke="#000" stroke-width="1"/>
<path d="M1035 108.5H1057" stroke="#2a8c2a" stroke-width="1"/>
<path d="M1035 130.5H1057" stroke="#000080" stroke-width="1"/>
<path d="M1046 128l2.5 2.5l-2.5 2.5l-2.5-2.5z" fill="#000080"/>
</g>
<text x="1060.5" y="113" font-size="11.5" fill="#000" font-family='"Liberation Sans","Noto Sans CJK JP",sans-serif' textLength="101" lengthAdjust="spacingAndGlyphs">＋DI（上昇トレンド）</text>
<text x="1060.5" y="135" font-size="11.5" fill="#000" font-family='"Liberation Sans","Noto Sans CJK JP",sans-serif' textLength="101" lengthAdjust="spacingAndGlyphs">－DI（下降トレンド）</text>
<g font-family='"Liberation Sans", sans-serif'>
<rect x="1028.5" y="182.5" width="231.0" height="112.0" fill="#fff" stroke="#808080" stroke-width="1"/>
<path d="M1028.5 210.5H1259.5M1028.5 238.5H1259.5M1028.5 266.5H1259.5" stroke="#555" stroke-width="0.9" fill="none"/>
<path d="M1028.5 182.5V294.5H1259.5V182.5" stroke="#000" stroke-width="1" fill="none"/>
<path d="M1028.5 182.5h4.5M1028.5 210.5h4.5M1028.5 238.5h4.5M1028.5 266.5h4.5M1028.5 294.5h4.5" stroke="#000" stroke-width="1" fill="none"/>
<path d="M1255.5 182.5H1259.5M1255.5 204.9H1259.5M1255.5 227.3H1259.5M1255.5 249.7H1259.5M1255.5 272.1H1259.5M1255.5 294.5H1259.5" stroke="#000" stroke-width="1" fill="none"/>
<text x="1019" y="186.7" font-size="11.2" text-anchor="end" font-weight="normal" fill="#000" >250</text>
<text x="1019" y="214.7" font-size="11.2" text-anchor="end" font-weight="normal" fill="#000" >200</text>
<text x="1019" y="242.7" font-size="11.2" text-anchor="end" font-weight="normal" fill="#000" >150</text>
<text x="1019" y="270.7" font-size="11.2" text-anchor="end" font-weight="normal" fill="#000" >100</text>
<text x="1019" y="298.7" font-size="11.2" text-anchor="end" font-weight="normal" fill="#000" >50</text>
<text x="1268.5" y="186.7" font-size="11.2" text-anchor="start" font-weight="normal" fill="#000" >1</text>
<text x="1268.5" y="209.1" font-size="11.2" text-anchor="start" font-weight="normal" fill="#000" >0.8</text>
<text x="1268.5" y="231.5" font-size="11.2" text-anchor="start" font-weight="normal" fill="#000" >0.6</text>
<text x="1268.5" y="253.9" font-size="11.2" text-anchor="start" font-weight="normal" fill="#000" >0.4</text>
<text x="1268.5" y="276.3" font-size="11.2" text-anchor="start" font-weight="normal" fill="#000" >0.2</text>
<text x="1268.5" y="298.7" font-size="11.2" text-anchor="start" font-weight="normal" fill="#000" >0</text>
<text x="1030" y="314.6" font-size="11.2" text-anchor="middle" font-weight="normal" fill="#000" letter-spacing="0.6">1/4</text>
<text x="1094" y="314.6" font-size="11.2" text-anchor="middle" font-weight="normal" fill="#000" letter-spacing="0.6">2/2</text>
<text x="1157.5" y="314.6" font-size="11.2" text-anchor="middle" font-weight="normal" fill="#000" letter-spacing="0.6">3/3</text>
<text x="1222" y="314.6" font-size="11.2" text-anchor="middle" font-weight="normal" fill="#000" letter-spacing="0.6">4/1</text>
<polyline points="1029,246 1033.4,243.9 1036,238 1039.2,230.5 1042.4,223.6 1045.6,219.3 1047.8,219.6 1052,222.5 1057.4,226.3 1062.2,229.5 1064.3,233.7 1066.5,239.1 1068.6,243.9 1070,247 1088,247 1090,243.9 1093.7,241.8 1096.9,238 1100.6,234.3 1103.8,232.5 1106.5,232.5 1109.2,234.8 1112.4,239.1 1116.1,243.4 1118,246 1176,270 1178.4,264.1 1181,255.2 1183.7,246.3 1186.4,238.2 1189,232 1192.6,225.8 1195.3,217.8 1198.8,208.8 1202.4,201.7 1206,198.5 1210.4,197.6 1216.7,196.7 1222,195.8 1226.5,195.1 1230,195.1 1233.6,196.4 1237.1,199 1240.7,203.5 1244.3,209.7 1246.9,216.9 1249.6,224.9 1251.7,230.6" fill="none" stroke="#2a8c2a" stroke-width="1.15"/>
<polyline points="1029.6,242.3 1032.8,239.4 1036.2,241.4 1039.2,236.7 1042.6,238.9 1045.8,241.8 1048.8,234.3 1052,232.9 1055.2,234 1058.5,233.7 1062.2,235.7 1065.4,235.3 1068.3,228.4 1071.3,217.9 1074.7,216.1 1077.7,210.8 1081.1,214 1084.3,213.2 1087.5,204.2 1091,209.2 1094,204.9 1097.2,209.4 1100.4,214.7 1103.8,214.5 1106.8,217.7 1110,226.1 1113.2,227.3 1116.4,232.1 1119.7,241 1122.5,243.4 1125.7,239.4 1129.2,240.7 1132.4,236.1 1135.7,236.9 1138.9,239.1 1142.1,231.6 1145.3,227.3 1148.7,227.9 1151.9,227.7 1155.1,224.3 1158.1,235.3 1161.3,230.5 1164.5,230.2 1167.7,237.8 1170.9,239.9 1174.6,248 1178.4,255.5 1181,256 1184.2,256.9 1187.4,258.2 1190.7,256.4 1193.9,257.5 1197.1,266.7 1200.1,272.6 1202.9,269 1206.1,267.3 1209.4,263.2 1212.6,262.6 1215.8,261.7 1219,260.9 1222.2,257.8 1225.4,258.7 1228.6,259.1 1231.8,253.9 1235,255.5 1238.2,252.1 1241.4,258.4 1244.6,256.6 1248,253.4 1251.2,250.7" fill="none" stroke="#000080" stroke-width="1"/>
<path d="M1029.6 240.1l2.2 2.2l-2.2 2.2l-2.2-2.2zM1032.8 237.2l2.2 2.2l-2.2 2.2l-2.2-2.2zM1036.2 239.2l2.2 2.2l-2.2 2.2l-2.2-2.2zM1039.2 234.5l2.2 2.2l-2.2 2.2l-2.2-2.2zM1042.6 236.7l2.2 2.2l-2.2 2.2l-2.2-2.2zM1045.8 239.6l2.2 2.2l-2.2 2.2l-2.2-2.2zM1048.8 232.1l2.2 2.2l-2.2 2.2l-2.2-2.2zM1052 230.7l2.2 2.2l-2.2 2.2l-2.2-2.2zM1055.2 231.8l2.2 2.2l-2.2 2.2l-2.2-2.2zM1058.5 231.5l2.2 2.2l-2.2 2.2l-2.2-2.2zM1062.2 233.5l2.2 2.2l-2.2 2.2l-2.2-2.2zM1065.4 233.1l2.2 2.2l-2.2 2.2l-2.2-2.2zM1068.3 226.2l2.2 2.2l-2.2 2.2l-2.2-2.2zM1071.3 215.7l2.2 2.2l-2.2 2.2l-2.2-2.2zM1074.7 213.9l2.2 2.2l-2.2 2.2l-2.2-2.2zM1077.7 208.6l2.2 2.2l-2.2 2.2l-2.2-2.2zM1081.1 211.8l2.2 2.2l-2.2 2.2l-2.2-2.2zM1084.3 211l2.2 2.2l-2.2 2.2l-2.2-2.2zM1087.5 202l2.2 2.2l-2.2 2.2l-2.2-2.2zM1091 207l2.2 2.2l-2.2 2.2l-2.2-2.2zM1094 202.7l2.2 2.2l-2.2 2.2l-2.2-2.2zM1097.2 207.2l2.2 2.2l-2.2 2.2l-2.2-2.2zM1100.4 212.5l2.2 2.2l-2.2 2.2l-2.2-2.2zM1103.8 212.3l2.2 2.2l-2.2 2.2l-2.2-2.2zM1106.8 215.5l2.2 2.2l-2.2 2.2l-2.2-2.2zM1110 223.9l2.2 2.2l-2.2 2.2l-2.2-2.2zM1113.2 225.1l2.2 2.2l-2.2 2.2l-2.2-2.2zM1116.4 229.9l2.2 2.2l-2.2 2.2l-2.2-2.2zM1119.7 238.8l2.2 2.2l-2.2 2.2l-2.2-2.2zM1122.5 241.2l2.2 2.2l-2.2 2.2l-2.2-2.2zM1125.7 237.2l2.2 2.2l-2.2 2.2l-2.2-2.2zM1129.2 238.5l2.2 2.2l-2.2 2.2l-2.2-2.2zM1132.4 233.9l2.2 2.2l-2.2 2.2l-2.2-2.2zM1135.7 234.7l2.2 2.2l-2.2 2.2l-2.2-2.2zM1138.9 236.9l2.2 2.2l-2.2 2.2l-2.2-2.2zM1142.1 229.4l2.2 2.2l-2.2 2.2l-2.2-2.2zM1145.3 225.1l2.2 2.2l-2.2 2.2l-2.2-2.2zM1148.7 225.7l2.2 2.2l-2.2 2.2l-2.2-2.2zM1151.9 225.5l2.2 2.2l-2.2 2.2l-2.2-2.2zM1155.1 222.1l2.2 2.2l-2.2 2.2l-2.2-2.2zM1158.1 233.1l2.2 2.2l-2.2 2.2l-2.2-2.2zM1161.3 228.3l2.2 2.2l-2.2 2.2l-2.2-2.2zM1164.5 228l2.2 2.2l-2.2 2.2l-2.2-2.2zM1167.7 235.6l2.2 2.2l-2.2 2.2l-2.2-2.2zM1170.9 237.7l2.2 2.2l-2.2 2.2l-2.2-2.2zM1174.6 245.8l2.2 2.2l-2.2 2.2l-2.2-2.2zM1178.4 253.3l2.2 2.2l-2.2 2.2l-2.2-2.2zM1181 253.8l2.2 2.2l-2.2 2.2l-2.2-2.2zM1184.2 254.7l2.2 2.2l-2.2 2.2l-2.2-2.2zM1187.4 256l2.2 2.2l-2.2 2.2l-2.2-2.2zM1190.7 254.2l2.2 2.2l-2.2 2.2l-2.2-2.2zM1193.9 255.3l2.2 2.2l-2.2 2.2l-2.2-2.2zM1197.1 264.5l2.2 2.2l-2.2 2.2l-2.2-2.2zM1200.1 270.4l2.2 2.2l-2.2 2.2l-2.2-2.2zM1202.9 266.8l2.2 2.2l-2.2 2.2l-2.2-2.2zM1206.1 265.1l2.2 2.2l-2.2 2.2l-2.2-2.2zM1209.4 261l2.2 2.2l-2.2 2.2l-2.2-2.2zM1212.6 260.4l2.2 2.2l-2.2 2.2l-2.2-2.2zM1215.8 259.5l2.2 2.2l-2.2 2.2l-2.2-2.2zM1219 258.7l2.2 2.2l-2.2 2.2l-2.2-2.2zM1222.2 255.6l2.2 2.2l-2.2 2.2l-2.2-2.2zM1225.4 256.5l2.2 2.2l-2.2 2.2l-2.2-2.2zM1228.6 256.9l2.2 2.2l-2.2 2.2l-2.2-2.2zM1231.8 251.7l2.2 2.2l-2.2 2.2l-2.2-2.2zM1235 253.3l2.2 2.2l-2.2 2.2l-2.2-2.2zM1238.2 249.9l2.2 2.2l-2.2 2.2l-2.2-2.2zM1241.4 256.2l2.2 2.2l-2.2 2.2l-2.2-2.2zM1244.6 254.4l2.2 2.2l-2.2 2.2l-2.2-2.2zM1248 251.2l2.2 2.2l-2.2 2.2l-2.2-2.2zM1251.2 248.5l2.2 2.2l-2.2 2.2l-2.2-2.2z" fill="#000080"/>
<rect x="1025.5" y="244.5" width="152" height="47.5" fill="#fff" stroke="#000" stroke-width="1"/>
<path d="M1035 256.5H1056" stroke="#000080" stroke-width="1"/>
<path d="M1045.5 254l2.5 2.5l-2.5 2.5l-2.5-2.5z" fill="#000080"/>
<path d="M1035 281.5H1056" stroke="#2a8c2a" stroke-width="1"/>
</g>
<text x="1059.5" y="261" font-size="11.5" fill="#000" font-family='"Liberation Sans","Noto Sans CJK JP",sans-serif' textLength="108" lengthAdjust="spacingAndGlyphs">ATR（ボラティリティ）</text>
<text x="1059.5" y="286" font-size="11.5" fill="#000" font-family='"Liberation Sans","Noto Sans CJK JP",sans-serif' textLength="75" lengthAdjust="spacingAndGlyphs">ADX（トレンド）</text>
<ellipse cx="1278" cy="102.8" rx="10" ry="17.4" fill="none" stroke="#ed1c24" stroke-width="5.2"/>
<path d="M1239.3 187.3L1282 220.5M1278.8 202L1283.3 222L1261.5 222.2H1286" fill="none" stroke="#ed1c24" stroke-width="4.6" stroke-linecap="round" stroke-linejoin="round"/>
<rect x="992" y="324" width="308" height="1" fill="#111"/>
<clipPath id="cutc"><rect x="990" y="326.4" width="312" height="3.2"/></clipPath>
<text x="992.5" y="336.3" font-size="9.5" fill="#000" font-family='"Liberation Sans","Noto Sans CJK JP",sans-serif' textLength="308" lengthAdjust="spacingAndGlyphs" clip-path="url(#cutc)">この募集若しくは売出または販売からの買付の申込みの勧誘、もしくは販売に対</text>
</svg>
</body></html>
